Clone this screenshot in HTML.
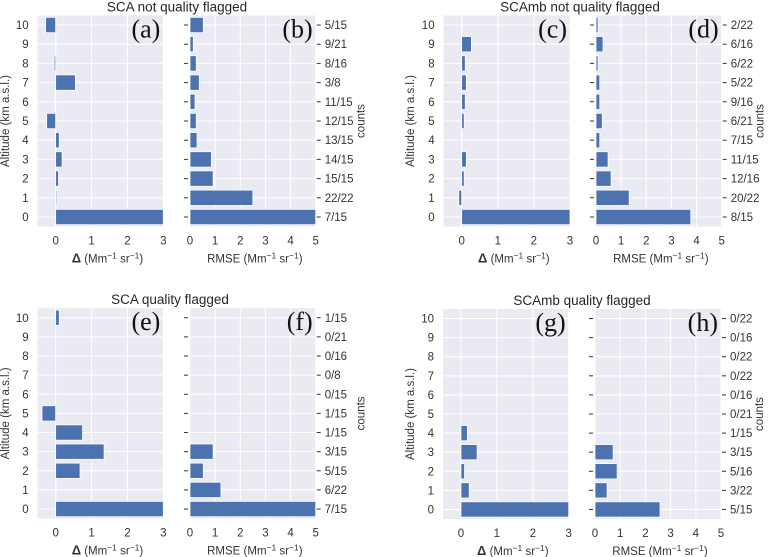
<!DOCTYPE html>
<html><head><meta charset="utf-8"><style>
body{margin:0;background:#fff;}
svg{display:block;font-family:"Liberation Sans",Arial,sans-serif;}
.t{fill:#333;font-size:11.5px;}
.h{fill:#262626;font-size:13.5px;}
.l{font-family:"Liberation Serif",serif;font-size:26px;fill:#111;}
</style></head><body>
<svg id="c" width="770" height="557" viewBox="0 0 770 557"></svg>
<script>
const altitudes=[0,1,2,3,4,5,6,7,8,9,10];
const deltaA=[3.2,0.03,0.08,0.18,0.1,-0.25,-0.02,0.55,-0.04,0,-0.28];
const rmseB=[5.2,2.5,0.92,0.85,0.28,0.25,0.2,0.37,0.25,0.13,0.53];
const countsB=["7/15","22/22","15/15","14/15","13/15","12/15","11/15","3/8","8/16","9/21","5/15"];
const deltaC=[3.2,-0.08,0.07,0.13,0,0.07,0.1,0.13,0.1,0.27,0];
const rmseD=[3.77,1.32,0.6,0.48,0.15,0.25,0.15,0.15,0.08,0.28,0.08];
const countsD=["8/15","20/22","12/16","11/15","7/15","6/21","9/16","5/22","6/22","6/16","2/22"];
const deltaE=[3.2,0,0.68,1.35,0.75,-0.38,null,null,null,null,0.1];
const rmseF=[5.2,1.23,0.53,0.92,null,null,null,null,null,null,null];
const countsF=["7/15","6/22","5/15","3/15","1/15","1/15","0/15","0/8","0/16","0/21","1/15"];
const deltaG=[3.2,0.23,0.1,0.45,0.18,null,null,null,null,null,null];
const rmseH=[2.58,0.48,0.88,0.72,null,null,null,null,null,null,null];
const countsH=["5/15","3/22","5/16","3/15","1/15","0/21","0/16","0/22","0/22","0/16","0/22"];
const deltaTicks=[0,1,2,3];
const rmseTicks=[0,1,2,3,4,5];

const svg=document.getElementById('c');
const NS='http://www.w3.org/2000/svg';
function mk(tag,attrs,parent,text){const e=document.createElementNS(NS,tag);for(const k in attrs)e.setAttribute(k,attrs[k]);if(text!==undefined)e.textContent=text;(parent||svg).appendChild(e);return e;}

function panel(o){
  const g=mk('g',{});
  
  
  const xs=v=>o.x0+(v-o.xmin)/(o.xmax-o.xmin)*(o.x1-o.x0);
  const ys=v=>o.y0+(10.5-v)/11*(o.y1-o.y0);
  const bg=mk('rect',{x:o.x0,y:o.y0,width:o.x1-o.x0,height:o.y1-o.y0,fill:'#EAEAF2'},g);
  
  o.ticks.forEach(t=>{mk('line',{x1:xs(t),x2:xs(t),y1:o.y0,y2:o.y1,stroke:'#fff','stroke-width':1},g);
    const tl=mk('text',{x:xs(t),y:o.y1+18,'text-anchor':'middle',class:'t'},g,String(t));
    });
  altitudes.forEach(a=>{mk('line',{x1:o.x0,x2:o.x1,y1:ys(a),y2:ys(a),stroke:'#fff','stroke-width':1},g);});
  const step=(o.y1-o.y0)/11, bh=step*0.8;
  o.vals.forEach((v,i)=>{if(v===null)return;const a=altitudes[i];
    const xa=Math.max(o.x0,Math.min(o.x1,xs(Math.min(0,v)))),xb=Math.max(o.x0,Math.min(o.x1,xs(Math.max(0,v))));
    const r=mk('rect',{x:xa,y:ys(a)-bh/2,width:Math.max(0.5,xb-xa),height:bh,fill:'#4C72B0',stroke:'#fff','stroke-width':0.8},g);
    });
  if(o.left){altitudes.forEach(a=>{const tl=mk('text',{x:o.x0-9,y:ys(a)+4,'text-anchor':'end',class:'t'},g,String(a));
      });
    const cy=(o.y0+o.y1)/2;
    const yt=mk('text',{x:o.ytx,y:cy,transform:`rotate(-90 ${o.ytx} ${cy})`,'text-anchor':'middle',class:'t'},g,'Altitude (km a.s.l.)');
    
    const xt=mk('text',{x:(xs(0)+xs(3))/2-2,y:o.y1+36,'text-anchor':'middle',class:'t'},g);
    
    xt.innerHTML='<tspan font-weight="bold" font-size="13">Δ</tspan> (Mm<tspan dy="-4" font-size="8.5">−1</tspan><tspan dy="4"> sr</tspan><tspan dy="-4" font-size="8.5">−1</tspan><tspan dy="4">)</tspan>';
  } else {
    altitudes.forEach((a,i)=>{mk('line',{x1:o.x0-6,x2:o.x0-2,y1:ys(a),y2:ys(a),stroke:'#333','stroke-width':1},g);
      mk('line',{x1:o.x1+1,x2:o.x1+5,y1:ys(a),y2:ys(a),stroke:'#333','stroke-width':1},g);
      const tl=mk('text',{x:o.x1+9,y:ys(a)+4,class:'t'},g,o.counts[i]);
      });
    const cy=(o.y0+o.y1)/2,cx=o.x1+o.cdx;
    const ct=mk('text',{x:cx,y:cy,transform:`rotate(-90 ${cx} ${cy})`,'text-anchor':'middle',class:'t'},g,'counts');
    
    const xt=mk('text',{x:(o.x0+o.x1)/2+2,y:o.y1+36,'text-anchor':'middle',class:'t'},g);
    
    xt.innerHTML='RMSE (Mm<tspan dy="-4" font-size="8.5">−1</tspan><tspan dy="4"> sr</tspan><tspan dy="-4" font-size="8.5">−1</tspan><tspan dy="4">)</tspan>';
  }
  const lb=mk('text',{x:o.x1-3,y:o.y0+22,'text-anchor':'end',class:'l'},g,o.letter);
  
}
function row(y0,y1,lx0,lx1,rx0,rx1,title,tx,da,rb,cnt,L1,L2,ytx,cdx,pre){
  const t=mk('text',{x:tx,y:y0-4,'text-anchor':'middle',class:'h'},svg,title);
  
  panel({name:pre+'-delta-panel',x0:lx0,x1:lx1,xmin:-0.5,xmax:3,y0,y1,ticks:deltaTicks,vals:da,left:true,letter:L1,ytx});
  panel({name:pre+'-rmse-panel',x0:rx0,x1:rx1,xmin:0,xmax:5,y0,y1,ticks:rmseTicks,vals:rb,left:false,counts:cnt,letter:L2,cdx});
}
row(15.4,226.6,37.7,163.3,190,315.7,'SCA not quality flagged',177,deltaA,rmseB,countsB,'(a)','(b)',9,49,'sca-nqf');
row(15.4,226.6,443.6,570,596,721.7,'SCAmb not quality flagged',580,deltaC,rmseD,countsD,'(c)','(d)',414,42,'scamb-nqf');
row(308.2,518.6,37.7,163.3,190,315.7,'SCA quality flagged',170,deltaE,rmseF,countsF,'(e)','(f)',9,49,'sca-qf');
row(309,519,443,568.7,595,721,'SCAmb quality flagged',582,deltaG,rmseH,countsH,'(g)','(h)',414,42,'scamb-qf');
</script>
</body></html>
